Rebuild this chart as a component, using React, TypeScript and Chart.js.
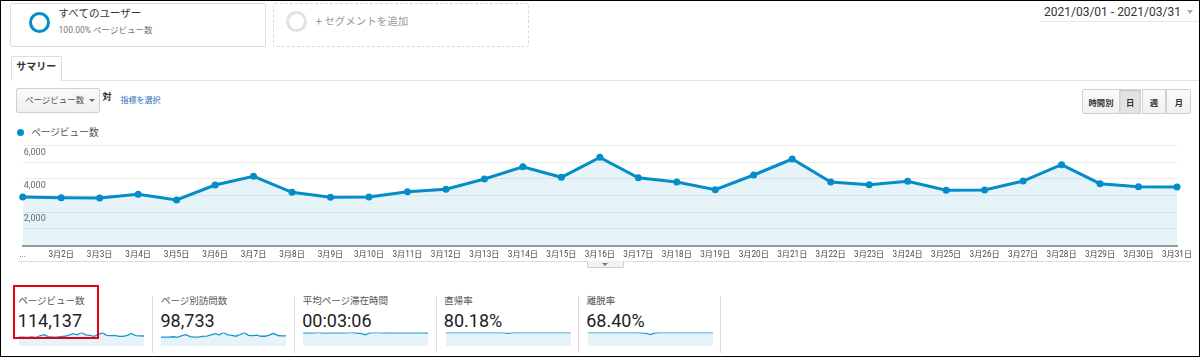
import React, { useEffect, useRef } from 'react';
import { Chart, registerables } from 'chart.js';

Chart.register(...registerables);

const FONT = 'Roboto, "Noto Sans CJK JP", "Noto Sans", sans-serif';
const BLUE = '#058dc7';
const FILL = 'rgba(5,141,199,0.1)';

// ---- data ----
const DATES = [
  '3月1日', '3月2日', '3月3日', '3月4日', '3月5日', '3月6日', '3月7日', '3月8日',
  '3月9日', '3月10日', '3月11日', '3月12日', '3月13日', '3月14日', '3月15日', '3月16日',
  '3月17日', '3月18日', '3月19日', '3月20日', '3月21日', '3月22日', '3月23日', '3月24日',
  '3月25日', '3月26日', '3月27日', '3月28日', '3月29日', '3月30日', '3月31日',
];
const X_TICK_LABELS = [
  '...', '3月2日', '3月3日', '3月4日', '3月5日', '3月6日', '3月7日', '3月8日',
  '3月9日', '3月10日', '3月11日', '3月12日', '3月13日', '3月14日', '3月15日', '3月16日',
  '3月17日', '3月18日', '3月19日', '3月20日', '3月21日', '3月22日', '3月23日', '3月24日',
  '3月25日', '3月26日', '3月27日', '3月28日', '3月29日', '3月30日', '3月31日',
];
const PAGEVIEWS = [
  2912, 2870, 2852, 3074, 2733, 3630, 4150, 3193, 2894, 2912, 3229, 3373, 3989, 4724, 4090, 5286,
  4066, 3809, 3349, 4228, 5185, 3809, 3648, 3851, 3313, 3331, 3869, 4844, 3708, 3528, 3510,
];
const Y_MAX = 6000;
const Y_STEP = 1000;
const Y_LABELED_TICKS = [2000, 4000, 6000];

const UNIQUE_PAGEVIEWS = [
  2530, 2490, 2470, 2660, 2380, 3120, 3560, 2770, 2510, 2530, 2800, 2920, 3440, 4060, 3530, 4520,
  3510, 3300, 2900, 3650, 4450, 3300, 3160, 3330, 2880, 2890, 3350, 4170, 3210, 3060, 3040,
];
const AVG_TIME_SEC = [
  188, 192, 185, 190, 194, 183, 188, 191, 186, 193, 187, 190, 192, 185, 175, 150,
  186, 190, 192, 187, 189, 191, 186, 190, 188, 192, 187, 190, 186, 189, 185,
];
const BOUNCE_RATE = [
  80.6, 80.4, 80.7, 80.5, 80.6, 80.3, 80.5, 80.6, 80.4, 80.5, 80.6, 80.2, 80.4, 79.0, 77.5, 73.5,
  79.9, 80.2, 80.4, 80.5, 80.3, 80.5, 80.6, 80.4, 80.5, 80.6, 80.4, 80.5, 80.6, 80.5, 80.4,
];
const EXIT_RATE = [
  69.2, 68.6, 69.4, 69.0, 68.4, 69.3, 69.1, 68.5, 69.2, 69.5, 68.8, 69.6, 69.8, 67.8, 64.0, 56.0,
  66.5, 68.4, 69.2, 68.6, 69.1, 69.3, 68.7, 69.2, 68.9, 69.4, 68.8, 69.2, 68.9, 69.3, 69.1,
];

const METRIC_NAMES = ['ページビュー数', 'ページ別訪問数', '平均ページ滞在時間', '直帰率', '離脱率'];
const METRIC_VALUES = ['114,137', '98,733', '00:03:06', '80.18%', '68.40%'];
const METRIC_SERIES = [PAGEVIEWS, UNIQUE_PAGEVIEWS, AVG_TIME_SEC, BOUNCE_RATE, EXIT_RATE];
const INTERVALS = ['時間別', '日', '週', '月'];

// ---- layout constants (positions only) ----
const METRIC_X = [17.3, 160, 301.7, 443.3, 585.7];
const SPARK_X = [18.3, 160, 302.3, 445, 586.7];
const SEP_X = [150.7, 292.7, 435, 577.3, 719.3];
const INTERVAL_W = [37.2, 22.9, 24.9, 24.9];

function T(props: {
  x: number; y: number; size: number; color?: string; weight?: number; children: React.ReactNode;
}) {
  const { x, y, size, color = '#333', weight = 400, children } = props;
  return (
    <div
      style={{
        position: 'absolute', left: x, top: y, transform: 'translateY(-50%)', fontSize: size,
        lineHeight: 1.2, color, fontWeight: weight, whiteSpace: 'nowrap', fontFamily: FONT,
      }}
    >
      {children}
    </div>
  );
}

function Tri(props: { cx: number; cy: number; w: number; h: number; color: string }) {
  const { cx, cy, w, h, color } = props;
  return (
    <div
      style={{
        position: 'absolute', left: cx - w / 2, top: cy - h / 2, width: 0, height: 0,
        borderLeft: `${w / 2}px solid transparent`, borderRight: `${w / 2}px solid transparent`,
        borderTop: `${h}px solid ${color}`,
      }}
    />
  );
}

function MainChart() {
  const ref = useRef<HTMLCanvasElement>(null);
  useEffect(() => {
    const chart = new Chart(ref.current as HTMLCanvasElement, {
      type: 'line',
      data: {
        labels: DATES,
        datasets: [
          {
            data: PAGEVIEWS,
            borderColor: BLUE,
            borderWidth: 3,
            backgroundColor: FILL,
            fill: 'origin',
            pointRadius: 3.5,
            pointBackgroundColor: BLUE,
            pointBorderWidth: 0,
            tension: 0,
          },
        ],
      },
      options: {
        animation: false,
        responsive: false,
        maintainAspectRatio: false,
        events: [],
        layout: { padding: { left: 19.7, right: 24, top: 6.4, bottom: 0.5 } },
        plugins: { legend: { display: false }, tooltip: { enabled: false } },
        scales: {
          x: {
            grid: { display: false, drawTicks: false },
            border: { display: true, color: '#9a9a9a', width: 2 },
            ticks: {
              autoSkip: false,
              maxRotation: 0,
              minRotation: 0,
              padding: 4,
              color: '#4a4a4a',
              font: { size: 8.2, family: FONT },
              callback: (_v: any, i: number) => X_TICK_LABELS[i],
            },
          },
          y: {
            min: 0,
            max: Y_MAX,
            grid: { color: '#ececec', drawTicks: false },
            border: { display: false },
            ticks: {
              stepSize: Y_STEP,
              mirror: true,
              padding: 1,
              labelOffset: 7,
              color: '#666',
              font: { size: 9, family: FONT },
              callback: (v: any) =>
                Y_LABELED_TICKS.includes(Number(v)) ? Number(v).toLocaleString('en-US') : '',
            },
          },
        },
      },
    });
    return () => chart.destroy();
  }, []);
  return (
    <canvas
      ref={ref}
      width={1200}
      height={125}
      style={{ position: 'absolute', left: 0, top: 138, width: 1200, height: 125 }}
    />
  );
}

function Spark(props: { data: number[]; left: number }) {
  const { data, left } = props;
  const ref = useRef<HTMLCanvasElement>(null);
  useEffect(() => {
    const max = Math.max(...data);
    const chart = new Chart(ref.current as HTMLCanvasElement, {
      type: 'line',
      data: {
        labels: DATES,
        datasets: [
          {
            data,
            borderColor: '#1a96d0',
            borderWidth: 1.3,
            backgroundColor: FILL,
            fill: 'start',
            pointRadius: 0,
            tension: 0,
          },
        ],
      },
      options: {
        animation: false,
        responsive: false,
        maintainAspectRatio: false,
        events: [],
        layout: { padding: { top: 1.5, left: 0, right: 0, bottom: 0 } },
        plugins: { legend: { display: false }, tooltip: { enabled: false } },
        scales: {
          x: { display: false },
          y: { display: false, min: -0.3 * max, max },
        },
      },
    });
    return () => chart.destroy();
  }, [data]);
  return (
    <canvas
      ref={ref}
      width={125}
      height={15}
      style={{ position: 'absolute', left, top: 330, width: 125, height: 15 }}
    />
  );
}

export default function App() {
  let bx = 1081.4;
  return (
    <div
      style={{
        position: 'relative', width: 1200, height: 357, boxSizing: 'border-box',
        border: '1px solid #000', background: '#fff', overflow: 'hidden', fontFamily: FONT,
      }}
    >
      <style>{'html,body{margin:0;padding:0;background:#fff}'}</style>

      {/* segment cards */}
      <div style={{ position: 'absolute', left: 8.6, top: 2.3, width: 256.6, height: 43.4, boxSizing: 'border-box', border: '1px solid #dedede', borderRadius: 2 }} />
      <div style={{ position: 'absolute', left: 38.3 - 10.5, top: 21.7 - 10.5, width: 21, height: 21, boxSizing: 'border-box', border: `3.5px solid ${BLUE}`, borderRadius: '50%' }} />
      <T x={57.6} y={13.3} size={10.5} color="#333">すべてのユーザー</T>
      <T x={57.6} y={29} size={8.5} color="#777">100.00% ページビュー数</T>

      <div style={{ position: 'absolute', left: 271.9, top: 2.3, width: 256.4, height: 43.4, boxSizing: 'border-box', border: '1px dashed #dadada', borderRadius: 2 }} />
      <div style={{ position: 'absolute', left: 295.6 - 10.5, top: 20.7 - 10.5, width: 21, height: 21, boxSizing: 'border-box', border: '3px solid #e2e2e2', borderRadius: '50%' }} />
      <T x={314.7} y={21} size={10.5} color="#999">+ セグメントを追加</T>

      {/* date range */}
      <T x={1043} y={10.7} size={12} color="#333">2021/03/01 - 2021/03/31</T>
      <Tri cx={1189.4} cy={11} w={7} h={4} color="#aaa" />
      <div style={{ position: 'absolute', left: 1039, top: 20, width: 160, height: 1, background: '#e8e8e8' }} />

      {/* tab + rule */}
      <div style={{ position: 'absolute', left: 9.6, top: 78.5, width: 1190, height: 1.5, background: '#e2e2e2' }} />
      <div style={{ position: 'absolute', left: 9.6, top: 54.5, width: 51, height: 25.5, boxSizing: 'border-box', border: '1px solid #dcdcdc', borderBottom: 'none', background: '#fff', borderRadius: '2px 2px 0 0' }} />
      <T x={15.3} y={65.7} size={10} weight={700} color="#333">サマリー</T>

      {/* metric selector */}
      <div style={{ position: 'absolute', left: 15, top: 86.5, width: 83.7, height: 25.5, boxSizing: 'border-box', border: '1px solid #d0d0d0', borderRadius: 2, background: 'linear-gradient(#fafafa, #efefef)' }} />
      <T x={23.9} y={99} size={8.5} color="#555">ページビュー数</T>
      <Tri cx={90.5} cy={99.5} w={6} h={3.5} color="#666" />
      <T x={101.6} y={95.7} size={9} weight={700} color="#333">対</T>
      <T x={119.5} y={99.5} size={8} color="#2a6ebb">指標を選択</T>

      {/* interval buttons */}
      {INTERVALS.map((label, i) => {
        const left = bx;
        bx += INTERVAL_W[i];
        const active = i === 1;
        return (
          <div
            key={label}
            style={{
              position: 'absolute', left, top: 88, width: INTERVAL_W[i], height: 25, boxSizing: 'border-box',
              border: '1px solid #d0d0d0', marginLeft: i === 0 ? 0 : -1,
              background: active ? '#e3e3e3' : 'linear-gradient(#fbfbfb, #f1f1f1)',
              boxShadow: active ? 'inset 0 1px 2px rgba(0,0,0,0.15)' : 'none',
              display: 'flex', alignItems: 'center', justifyContent: 'center',
              fontSize: 8.3, fontWeight: 700, color: '#333', fontFamily: FONT,
              borderRadius: i === 0 ? '2px 0 0 2px' : i === 3 ? '0 2px 2px 0' : 0,
            }}
          >
            {label}
          </div>
        );
      })}

      {/* legend */}
      <div style={{ position: 'absolute', left: 19.7 - 3.5, top: 131.8 - 3.5, width: 7, height: 7, borderRadius: '50%', background: BLUE }} />
      <T x={30} y={131.8} size={9.7} color="#555">ページビュー数</T>

      <MainChart />

      {/* under-chart rule and toggle tab */}
      <div style={{ position: 'absolute', left: 16.7, top: 259.5, width: 1173, height: 1, background: '#dddddd' }} />
      <div style={{ position: 'absolute', left: 586, top: 260, width: 36.7, height: 7, boxSizing: 'border-box', border: '1px solid #cfcfcf', borderTop: 'none', background: '#f2f2f2', borderRadius: '0 0 2px 2px' }} />
      <Tri cx={604.3} cy={263.2} w={6} h={3} color="#777" />

      {/* metrics row */}
      {SEP_X.map((x) => (
        <div key={x} style={{ position: 'absolute', left: x, top: 295, width: 1, height: 57, background: '#dcdcdc' }} />
      ))}
      {METRIC_NAMES.map((name, i) => (
        <T key={name} x={METRIC_X[i]} y={300} size={9.5} color="#555">{name}</T>
      ))}
      {METRIC_VALUES.map((v, i) => (
        <T key={v} x={METRIC_X[i] - 0.5} y={320} size={18} color="#222">{v}</T>
      ))}
      {METRIC_SERIES.map((s, i) => (
        <Spark key={i} data={s} left={SPARK_X[i]} />
      ))}
      <div style={{ position: 'absolute', left: 11.7, top: 284, width: 86.6, height: 54.3, boxSizing: 'border-box', border: '2px solid #e60012' }} />
    </div>
  );
}
